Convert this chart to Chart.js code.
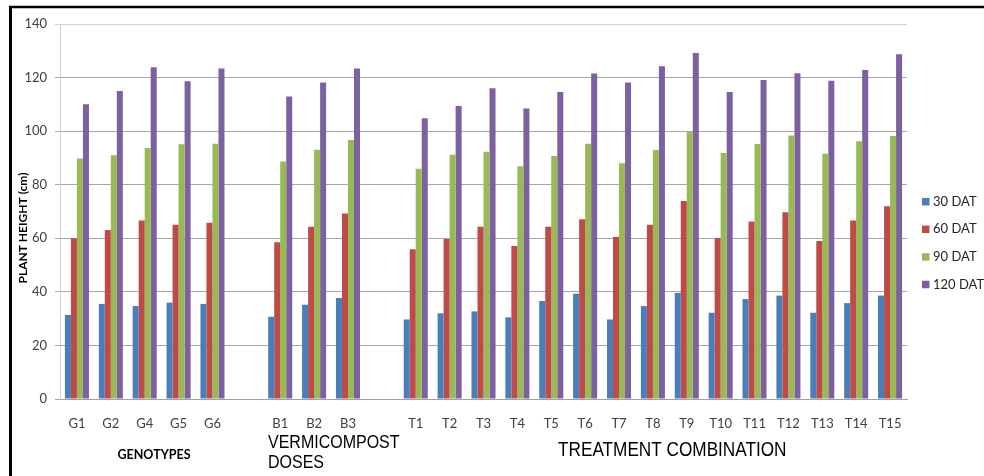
<!DOCTYPE html>
<html><head><meta charset="utf-8">
<script src="https://cdn.jsdelivr.net/npm/chart.js@4.4.0/dist/chart.umd.min.js"></script>
<style>html,body{margin:0;padding:0;background:#fff}#wrap{width:984px;height:476px;position:relative}</style>
</head><body><div id="wrap"><canvas id="c"></canvas></div>
<script>
const categories = ['G1','G2','G4','G5','G6','','B1','B2','B3','','T1','T2','T3','T4','T5','T6','T7','T8','T9','T10','T11','T12','T13','T14','T15'];
const dat30  = [31.4,35.5,34.7,36.0,35.5,null,30.7,35.2,37.7,null,29.7,32.0,32.7,30.5,36.6,39.3,29.7,34.7,39.6,32.2,37.3,38.6,32.2,35.8,38.6];
const dat60  = [60.0,63.1,66.6,65.1,65.8,null,58.5,64.3,69.3,null,55.9,59.7,64.3,57.1,64.3,67.1,60.5,65.1,73.9,60.1,66.3,69.7,59.0,66.6,72.0];
const dat90  = [89.8,91.0,93.7,95.1,95.3,null,88.7,93.1,96.7,null,86.0,91.2,92.3,86.9,90.7,95.3,88.0,93.0,99.9,91.8,95.2,98.4,91.6,96.2,98.2];
const dat120 = [110.0,115.0,123.9,118.6,123.4,null,112.9,118.2,123.4,null,104.8,109.4,116.0,108.5,114.6,121.5,118.2,124.2,129.2,114.6,119.1,121.6,118.8,122.8,128.7];
const seriesLabels = ['30 DAT','60 DAT','90 DAT','120 DAT'];
const seriesColors = ['#4A7EBB','#BE4B48','#98B954','#7D60A0'];
const yTicks = [0,20,40,60,80,100,120,140];
const yTitle = 'PLANT HEIGHT (cm)';
const groupGenotypes = 'GENOTYPES';
const groupDoses = ['VERMICOMPOST','DOSES'];
const groupTreatment = 'TREATMENT COMBINATION';

const extras = {
  id: 'extras',
  beforeDraw(chart) {
    const ctx = chart.ctx;
    ctx.save();
    ctx.fillStyle = '#fff';
    ctx.fillRect(0, 0, chart.width, chart.height);
    ctx.restore();
  },
  afterDraw(chart) {
    const ctx = chart.ctx;
    const ca = chart.chartArea;
    ctx.save();
    // frame
    ctx.strokeStyle = '#000';
    ctx.lineWidth = 2.5;
    ctx.beginPath(); ctx.moveTo(9, 7); ctx.lineTo(chart.width, 7); ctx.stroke();
    ctx.lineWidth = 3;
    ctx.beginPath(); ctx.moveTo(10.5, 6); ctx.lineTo(10.5, chart.height); ctx.stroke();
    // legend
    ctx.font = '13px Lato';
    ctx.textBaseline = 'middle';
    ctx.textAlign = 'left';
    chart.data.datasets.forEach((ds, i) => {
      const cy = 201.7 + i * 27.6;
      ctx.fillStyle = ds.backgroundColor;
      ctx.fillRect(ca.right + 15, cy - 3.75, 7.5, 7.5);
      ctx.fillStyle = '#262626';
      ctx.fillText(ds.label, ca.right + 26, cy);
    });
    // y title
    ctx.save();
    ctx.translate(23, 228);
    ctx.rotate(-Math.PI / 2);
    ctx.font = 'bold 12px Lato';
    ctx.textAlign = 'center';
    ctx.fillStyle = '#000';
    ctx.fillText(yTitle, 0, 0);
    ctx.restore();
    // group titles
    ctx.fillStyle = '#000';
    ctx.font = 'bold 12.5px Lato';
    ctx.textAlign = 'center';
    ctx.fillText(groupGenotypes, 154, 455);
    ctx.textAlign = 'left';
    ctx.save();
    ctx.translate(268, 443); ctx.scale(1, 1.1);
    ctx.font = '16px "Liberation Sans"';
    ctx.fillText(groupDoses[0], 0, 0);
    ctx.restore();
    ctx.save();
    ctx.translate(268, 463); ctx.scale(1, 1.1);
    ctx.font = '16px "Liberation Sans"';
    ctx.fillText(groupDoses[1], 0, 0);
    ctx.restore();
    ctx.save();
    ctx.translate(558, 450.5); ctx.scale(1, 1.15);
    ctx.font = '17.2px "Liberation Sans"';
    ctx.fillText(groupTreatment, 0, 0);
    ctx.restore();
    ctx.restore();
  }
};

const datasets = [dat30, dat60, dat90, dat120].map((d, i) => ({
  label: seriesLabels[i],
  data: d,
  backgroundColor: seriesColors[i],
  borderWidth: 0,
  categoryPercentage: 0.71,
  barPercentage: 1.0
}));

new Chart(document.getElementById('c'), {
  type: 'bar',
  data: { labels: categories, datasets },
  plugins: [extras],
  options: {
    responsive: true,
    maintainAspectRatio: false,
    animation: false,
    layout: { padding: { left: 0, right: 77, top: 24, bottom: 0 } },
    plugins: { legend: { display: false }, tooltip: { enabled: false } },
    scales: {
      x: {
        grid: { display: false, drawTicks: false },
        border: { display: true, color: '#a0a0a0', width: 1 },
        ticks: { autoSkip: false, maxRotation: 0, padding: 17, color: '#404040', font: { family: 'Lato', size: 13 } },
        afterFit(scale) { scale.height = 77; }
      },
      y: {
        min: 0, max: 140,
        afterBuildTicks(scale) { scale.ticks = yTicks.map(v => ({ value: v })); },
        grid: {
          color: (c) => (c.tick && c.tick.value === 140) ? '#d4d4d4' : '#a6a6a6',
          tickLength: 5, drawTicks: true
        },
        border: { display: true, color: '#d0d0d0', width: 1 },
        ticks: { padding: 8, color: '#404040', font: { family: 'Lato', size: 13 } },
        afterFit(scale) { scale.width = 60; }
      }
    }
  }
});
</script>
</body></html>
